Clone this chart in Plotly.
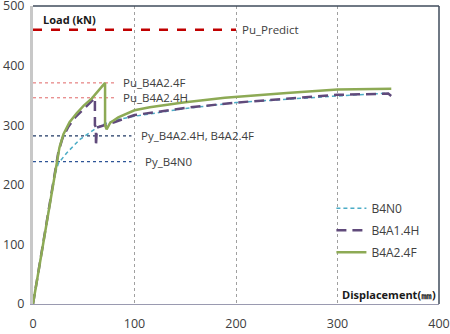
import plotly.graph_objects as go

# Load-displacement curves
b4n0_x = [0, 21, 25, 33, 46, 56, 63, 73, 85, 100, 150, 200, 250, 300, 350]
b4n0_y = [0, 214, 236, 253, 276, 287, 296, 304, 310, 315, 328, 338, 344, 349, 354]

b4a14h_x = [0, 21, 25, 29, 35, 42, 50, 56, 61, 61, 62, 62, 63, 70, 80, 100, 150, 200, 250, 300, 350, 353]
b4a14h_y = [0, 218, 255, 278, 298, 314, 328, 338, 346, 300, 297, 265, 296, 300, 305, 317, 329, 338, 345, 351, 353, 349]

b4a24f_x = [0, 22, 26, 30, 36, 43, 50, 58, 65, 71, 71, 72.5, 76, 84, 100, 115, 148, 189, 250, 300, 353]
b4a24f_y = [0, 225, 262, 285, 305, 320, 333, 345, 358, 371, 300, 293, 304, 313, 325, 330, 338, 346, 354, 360, 361]

# Reference levels (kN) and label text
pu_predict = 460
pu_b4a24f = 371
pu_b4a24h = 346
py_b4a24 = 282
py_b4n0 = 239

fig = go.Figure()

LBL = dict(family="Open Sans", size=11.5, color="#404040")

def hline(y, x1, color, dash, width):
    fig.add_trace(go.Scatter(x=[0, x1], y=[y, y], mode="lines", showlegend=False,
                             line=dict(color=color, dash=dash, width=width), hoverinfo="skip"))

hline(pu_predict, 200, "#C00000", "dash", 2.5)
hline(pu_b4a24f, 81, "#E06666", "dot", 1)
hline(pu_b4a24h, 81, "#E06666", "dot", 1)
hline(py_b4a24, 97, "#1F3864", "dot", 1.2)
hline(py_b4n0, 97, "#2E5597", "dot", 1.2)

fig.add_trace(go.Scatter(x=b4n0_x, y=b4n0_y, mode="lines", name="B4N0", legendgroup="a",
                         line=dict(color="#4BACC6", dash="4px,3px", width=1.5)))
fig.add_trace(go.Scatter(x=b4a14h_x, y=b4a14h_y, mode="lines", name="B4A1.4H", legendgroup="b",
                         line=dict(color="#604A7B", dash="10px,6px", width=2.5)))
fig.add_trace(go.Scatter(x=b4a24f_x, y=b4a24f_y, mode="lines", name="B4A2.4F", legendgroup="c",
                         line=dict(color="#8DAA55", width=2.5)))

annots = [
    (204, pu_predict, "Pu_Predict"),
    (87, pu_b4a24f, "Pu_B4A2.4F"),
    (87, pu_b4a24h, "Pu_B4A2.4H"),
    (104, py_b4a24, "Py_B4A2.4H, B4A2.4F"),
    (108, py_b4n0, "Py_B4N0"),
]
for x, y, t in annots:
    fig.add_annotation(x=x, y=y, text=t, showarrow=False, xanchor="left", yanchor="middle",
                       font=LBL)

fig.add_annotation(x=0.02, y=0.985, xref="paper", yref="paper", text="<b>Load (kN)</b>",
                   showarrow=False, xanchor="left", yanchor="top",
                   font=dict(family="Open Sans", size=11, color="#1a1a1a"))
fig.add_annotation(x=0.998, y=0.0, xref="paper", yref="paper", text="<b>Displacement(㎜)</b>",
                   showarrow=False, xanchor="right", yanchor="bottom",
                   font=dict(family="Open Sans", size=11, color="#1a1a1a"))

fig.add_shape(type="line", xref="paper", yref="paper", x0=0, x1=1, y0=1, y1=1,
              line=dict(color="#3F4B5B", width=1.5))
fig.add_shape(type="line", xref="paper", yref="paper", x0=1, x1=1, y0=0, y1=1,
              line=dict(color="#3F4B5B", width=1.5))

fig.update_layout(
    width=450, height=334,
    margin=dict(l=33, r=11, t=6, b=30, autoexpand=False),
    paper_bgcolor="white", plot_bgcolor="white",
    font=dict(family="Open Sans", size=12, color="#404040"),
    legend=dict(x=0.735, y=0.37, xanchor="left", yanchor="top", bgcolor="rgba(0,0,0,0)",
                font=dict(size=12, color="#404040"), tracegroupgap=3),
    xaxis=dict(range=[0, 400], tickvals=[0, 100, 200, 300, 400], showgrid=True, gridcolor="#A0A0A0",
               griddash="dot", gridwidth=1, zeroline=False, showline=True,
               linecolor="#9A9AB0", linewidth=1, ticks="", tickfont=dict(size=12.5),
               ticklabelstandoff=8, automargin=False, ticklabeloverflow="allow"),
    yaxis=dict(range=[0, 500.01], tickvals=[0, 100, 200, 300, 400, 500], showgrid=False,
               zeroline=False, showline=True,
               linecolor="#C8C8C8", linewidth=3, ticks="", tickfont=dict(size=12.5),
               ticklabelstandoff=3, automargin=False, ticklabeloverflow="allow"),
)

fig.write_html("out.html")
